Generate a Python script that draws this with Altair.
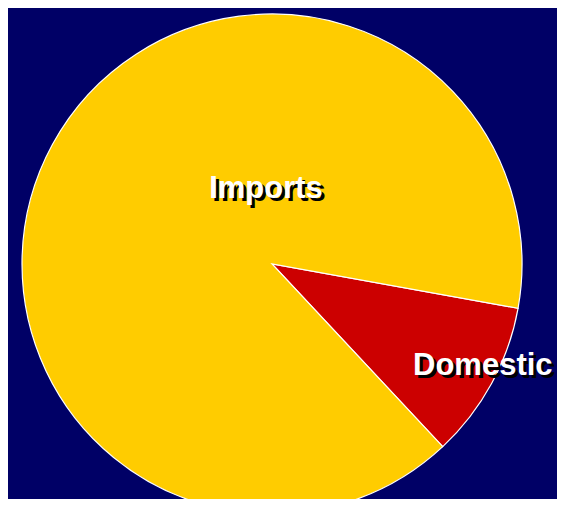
import math
import altair as alt
import pandas as pd

# Data
categories = ["Domestic", "Imports"]
shares = [10.2, 89.8]
order_idx = [0, 1]
slice_colors = ["#CC0000", "#FFCC00"]

df = pd.DataFrame({"category": categories, "value": shares, "idx": order_idx})

BG = "#000066"
W, H = 549, 491
CX, CY = 264, 256
R = 250
start = math.radians(100.2)

theta = alt.Theta("value:Q", stack=True,
                  scale=alt.Scale(range=[start, start + 2 * math.pi]))

base = alt.Chart(df)

pie = base.mark_arc(outerRadius=R, stroke="white", strokeWidth=1.2).encode(
    theta=theta,
    color=alt.Color("category:N", scale=alt.Scale(domain=categories, range=slice_colors), legend=None),
    order=alt.Order("idx:Q"),
    x=alt.value(CX),
    y=alt.value(CY),
)

def label(cat, radius, dx, dy):
    common = dict(align="center", baseline="middle", font="Liberation Sans",
                  fontSize=31, fontWeight="bold", radius=radius)
    shadow = base.mark_text(color="black", dx=dx + 3, dy=dy + 3, **common).encode(
        theta=theta, order=alt.Order("idx:Q"), text="category:N",
        x=alt.value(CX), y=alt.value(CY),
    ).transform_filter(alt.datum.category == cat)
    front = base.mark_text(color="white", dx=dx, dy=dy, **common).encode(
        theta=theta, order=alt.Order("idx:Q"), text="category:N",
        x=alt.value(CX), y=alt.value(CY),
    ).transform_filter(alt.datum.category == cat)
    return [shadow, front]

layers = [pie] + label("Imports", 0, -6, -75) + label("Domestic", 240, 0, -13)

chart = alt.layer(*layers).properties(
    width=W, height=H,
    autosize=alt.AutoSizeParams(type="none"),
    padding=0,
    background=BG,
).configure_view(stroke=None)

chart.save("out.html", embed_options={"renderer": "svg", "actions": False})
